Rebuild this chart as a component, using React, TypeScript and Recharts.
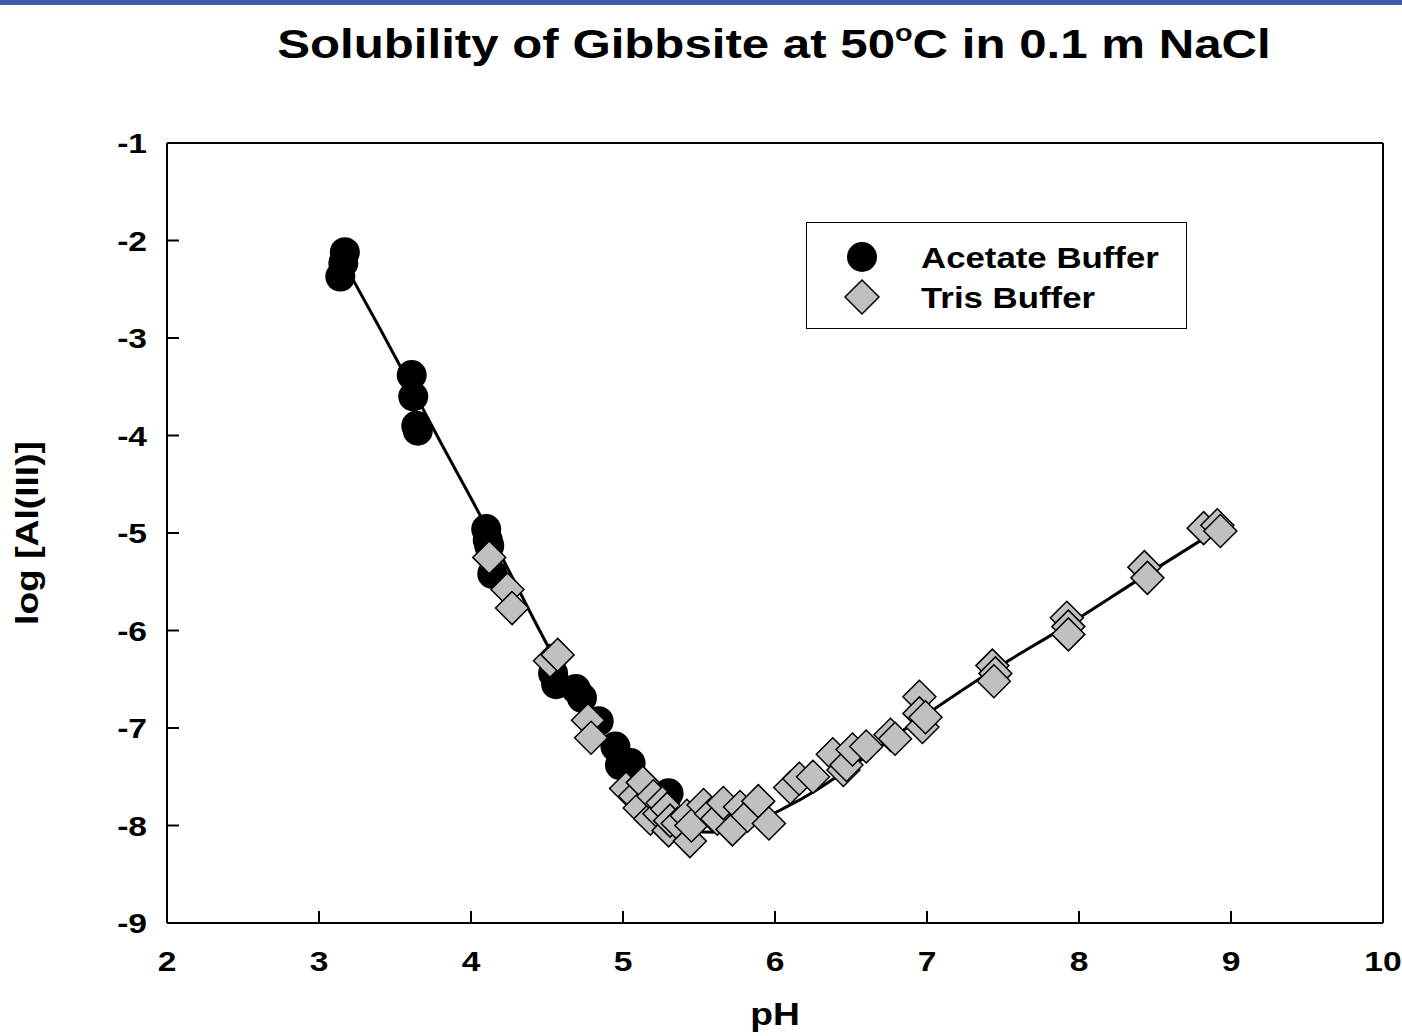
import React from 'react';
import { ComposedChart, Scatter, Line, XAxis, YAxis } from 'recharts';

const FONT = '"Liberation Sans", Arial, Helvetica, sans-serif';
const WIDE = 1.2; // the original lettering is set a bit wider than Arial

// axis ticks
const phTicks = [2, 3, 4, 5, 6, 7, 8, 9, 10];
const logTicks = [-9, -8, -7, -6, -5, -4, -3, -2, -1];

// acetate buffer runs
const acetatePH = [3.17, 3.16, 3.14, 3.61, 3.62, 3.64, 3.65, 4.1, 4.11, 4.12, 4.14, 4.54, 4.56, 4.69, 4.73, 4.84, 4.95, 4.98, 5.05, 5.3];
const acetateLog = [-2.12, -2.23, -2.37, -3.38, -3.6, -3.9, -3.95, -4.96, -5.07, -5.13, -5.42, -6.44, -6.55, -6.6, -6.69, -6.93, -7.19, -7.38, -7.36, -7.67];

// tris buffer runs
const trisPH = [
  4.12, 4.24, 4.27, 4.52, 4.57, 4.77, 4.79, 5.02, 5.08, 5.11, 5.13, 5.18, 5.2, 5.24, 5.26, 5.29, 5.3, 5.31,
  5.36, 5.42, 5.44, 5.45, 5.53, 5.58, 5.62, 5.66, 5.72, 5.77, 5.82, 5.89, 5.96, 6.1, 6.16, 6.25, 6.38, 6.45, 6.47,
  6.51, 6.6, 6.76, 6.79, 6.95, 6.95, 6.97, 6.99, 7.43, 7.45, 7.44, 7.92, 7.93, 7.93, 8.43, 8.45,
  8.82, 8.91, 8.93,
];
const trisLog = [
  -5.25, -5.58, -5.77, -6.31, -6.25, -6.92, -7.1, -7.62, -7.7, -7.82, -7.56, -7.93, -7.7, -7.88, -7.77, -7.83, -8.05, -7.95,
  -7.98, -7.9, -8.16, -8.0, -7.79, -7.88, -7.93, -7.77, -8.04, -7.81, -7.9, -7.75, -7.98, -7.61, -7.52, -7.5, -7.27, -7.43, -7.38,
  -7.22, -7.19, -7.07, -7.11, -6.68, -6.85, -6.99, -6.89, -6.36, -6.44, -6.52, -5.87, -5.96, -6.04, -5.35, -5.46,
  -4.95, -4.92, -4.98,
];

// model solubility curve
const fitPH = [3.17, 3.4, 3.6, 3.8, 4.03, 4.28, 4.52, 4.78, 4.89, 5.03, 5.13, 5.22, 5.29, 5.44, 5.62, 5.84, 6.05, 6.28, 6.49, 6.93, 7.41, 7.92, 8.42, 8.93];
const fitLog = [-2.25, -2.9, -3.48, -4.07, -4.73, -5.48, -6.2, -6.87, -7.13, -7.48, -7.72, -7.87, -7.96, -8.06, -8.07, -7.98, -7.83, -7.63, -7.41, -6.93, -6.43, -5.95, -5.45, -4.95];

const pair = (xs: number[], ys: number[]) => xs.map((x, i) => ({ ph: x, log: ys[i] }));

const acetate = pair(acetatePH, acetateLog);
const tris = pair(trisPH, trisLog);
const fit = pair(fitPH, fitLog);

const Dot = (p: any) => <circle cx={p.cx} cy={p.cy} r={15} fill="#000" />;
const Diamond = (p: any) => {
  const s = 16.5;
  return (
    <polygon
      points={`${p.cx},${p.cy - s} ${p.cx + s},${p.cy} ${p.cx},${p.cy + s} ${p.cx - s},${p.cy}`}
      fill="#c0c0c0"
      stroke="#000"
      strokeWidth={1.5}
    />
  );
};

const tickText = { fill: '#000', fontSize: 28, fontWeight: 700, fontFamily: FONT };

const BottomTick = (p: any) => (
  <text transform={`translate(${p.x},${p.y}) scale(${WIDE},1)`} textAnchor="middle" dy="0.71em" {...tickText}>
    {p.payload.value}
  </text>
);
const LeftTick = (p: any) => (
  <text transform={`translate(${p.x},${p.y}) scale(${WIDE},1)`} textAnchor="end" dy="0.36em" {...tickText}>
    {p.payload.value}
  </text>
);

const axisLine = { stroke: '#000', strokeWidth: 2 };

export default function App() {
  return (
    <div style={{ position: 'absolute', left: 0, top: 0, width: 1402, height: 1036, background: '#fff', fontFamily: FONT, color: '#000' }}>
      <div style={{ position: 'absolute', left: 0, top: 0, width: 1402, height: 5, background: '#3f5aa8' }} />
      <div
        style={{
          position: 'absolute', left: 274, top: 24, width: 1000, textAlign: 'center',
          fontSize: 41, fontWeight: 700, lineHeight: 1, whiteSpace: 'nowrap',
          transform: `scaleX(${WIDE})`, transformOrigin: '500px 0',
        }}
      >
        Solubility of Gibbsite at 50<span style={{ fontSize: 24, position: 'relative', top: -17 }}>o</span>C in 0.1 m NaCl
      </div>

      <ComposedChart width={1402} height={1036} margin={{ top: 142, right: 18, bottom: 53, left: 67 }}>
        <XAxis
          type="number" dataKey="ph" domain={[2, 10]} ticks={phTicks} interval={0}
          height={60} tickSize={-12} tickMargin={40} axisLine={axisLine} tickLine={axisLine} tick={BottomTick}
        />
        <XAxis
          xAxisId="top" orientation="top" type="number" dataKey="ph" domain={[2, 10]} ticks={phTicks} interval={0}
          height={1} tickSize={-12} axisLine={axisLine} tickLine={axisLine} tick={false}
        />
        <YAxis
          type="number" dataKey="log" domain={[-9, -1]} ticks={logTicks} interval={0}
          width={100} tickSize={-12} tickMargin={32} axisLine={axisLine} tickLine={axisLine} tick={LeftTick}
        />
        <YAxis
          yAxisId="right" orientation="right" type="number" dataKey="log" domain={[-9, -1]} ticks={logTicks} interval={0}
          width={1} tickSize={-12} axisLine={axisLine} tickLine={axisLine} tick={false}
        />
        <Scatter name="Acetate Buffer" data={acetate} shape={Dot} isAnimationActive={false} />
        <Scatter name="Tris Buffer" data={tris} shape={Diamond} isAnimationActive={false} />
        <Line
          data={fit} dataKey="log" type="monotone" stroke="#000" strokeWidth={3}
          dot={false} activeDot={false} isAnimationActive={false}
        />
      </ComposedChart>

      {/* legend box */}
      <div
        style={{
          position: 'absolute', left: 806, top: 222, width: 381, height: 107, boxSizing: 'border-box',
          border: '1.5px solid #000', background: '#fff',
        }}
      >
        <svg width={381} height={107} style={{ position: 'absolute', left: -1.5, top: -1.5 }}>
          <circle cx={56} cy={35} r={15} fill="#000" />
          <polygon points="56,58 73,75 56,92 39,75" fill="#c0c0c0" stroke="#000" strokeWidth={1.5} />
        </svg>
        <div style={{ position: 'absolute', left: 114, top: 18, fontSize: 29, fontWeight: 700, lineHeight: '34px', whiteSpace: 'nowrap', transform: `scaleX(${WIDE})`, transformOrigin: '0 0' }}>
          Acetate Buffer
        </div>
        <div style={{ position: 'absolute', left: 114, top: 58, fontSize: 29, fontWeight: 700, lineHeight: '34px', whiteSpace: 'nowrap', transform: `scaleX(${WIDE})`, transformOrigin: '0 0' }}>
          Tris Buffer
        </div>
      </div>

      {/* axis titles */}
      <div style={{ position: 'absolute', left: 775, top: 1015, transform: `translate(-50%, -50%) scaleX(${WIDE})`, fontSize: 31, fontWeight: 700, whiteSpace: 'nowrap' }}>
        pH
      </div>
      <div style={{ position: 'absolute', left: 28, top: 533, transform: `translate(-50%, -50%) rotate(-90deg) scaleX(${WIDE})`, fontSize: 31, fontWeight: 700, whiteSpace: 'nowrap' }}>
        log [Al(III)]
      </div>
    </div>
  );
}
